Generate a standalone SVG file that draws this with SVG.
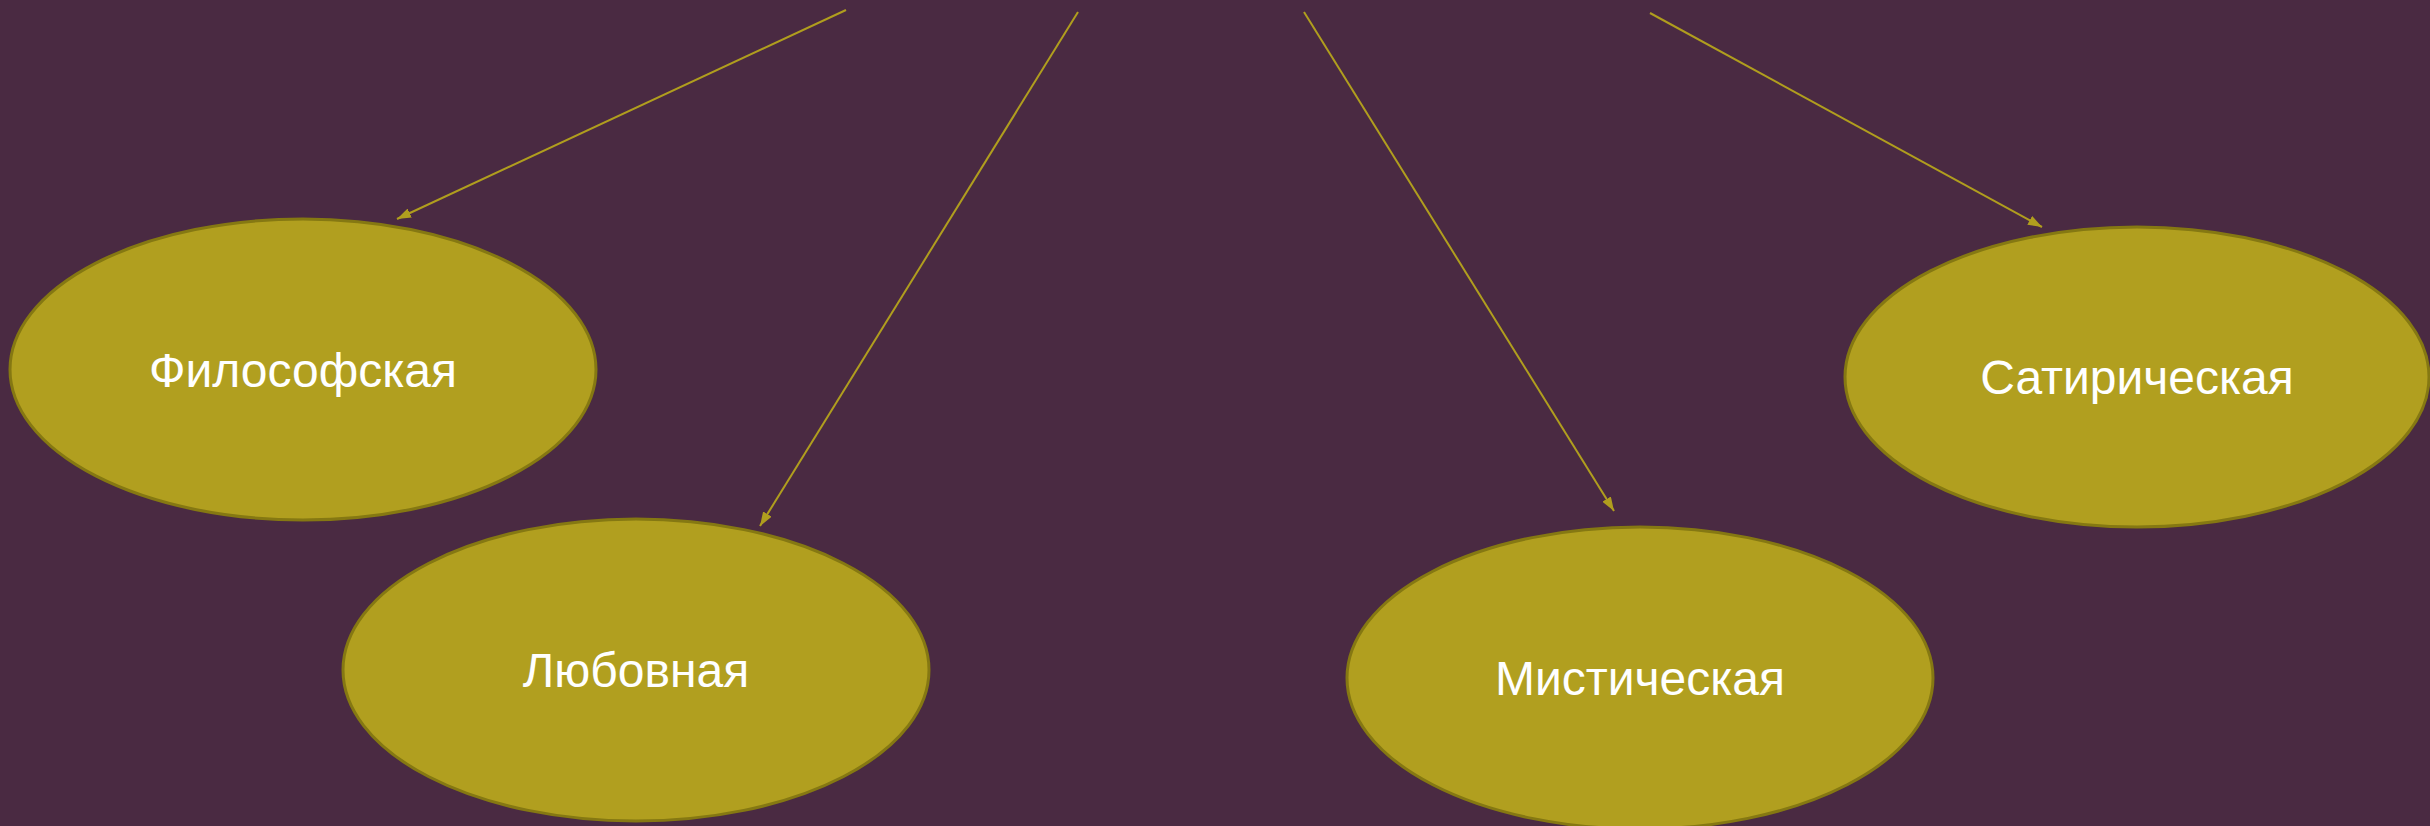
<svg xmlns="http://www.w3.org/2000/svg" width="2430" height="826" viewBox="0 0 2430 826">
<defs>
<style>
.node ellipse{fill:#b19f1f;stroke:#857812;stroke-width:3}
.node text{font-family:"Liberation Sans",Arial,sans-serif;font-size:48px;fill:#ffffff;text-anchor:middle}
.conn line{stroke:#b09e1e;stroke-width:2;fill:none}
</style>
<marker id="arr" viewBox="0 0 14 10" refX="14" refY="5" markerWidth="14" markerHeight="10" markerUnits="userSpaceOnUse" orient="auto">
<path d="M0,0 L14,5 L0,10 z" fill="#b09e1e"/>
</marker>
</defs>
<rect x="0" y="0" width="2430" height="826" fill="#4a2a42"/>
<g id="connectors" class="conn">
<line x1="846" y1="10" x2="397" y2="219" marker-end="url(#arr)"/>
<line x1="1078" y1="12" x2="760" y2="526" marker-end="url(#arr)"/>
<line x1="1304" y1="12" x2="1614" y2="511" marker-end="url(#arr)"/>
<line x1="1650" y1="13" x2="2042" y2="227" marker-end="url(#arr)"/>
</g>
<g id="node-philosophical" class="node">
<ellipse cx="303" cy="369.5" rx="293" ry="150.5"/>
<text x="303" y="387">Философская</text>
</g>
<g id="node-love" class="node">
<ellipse cx="636" cy="670" rx="293" ry="151"/>
<text x="636" y="687">Любовная</text>
</g>
<g id="node-mystical" class="node">
<ellipse cx="1640" cy="678" rx="293" ry="151"/>
<text x="1640" y="695">Мистическая</text>
</g>
<g id="node-satirical" class="node">
<ellipse cx="2137" cy="377" rx="292" ry="150"/>
<text x="2137" y="394">Сатирическая</text>
</g>
</svg>
